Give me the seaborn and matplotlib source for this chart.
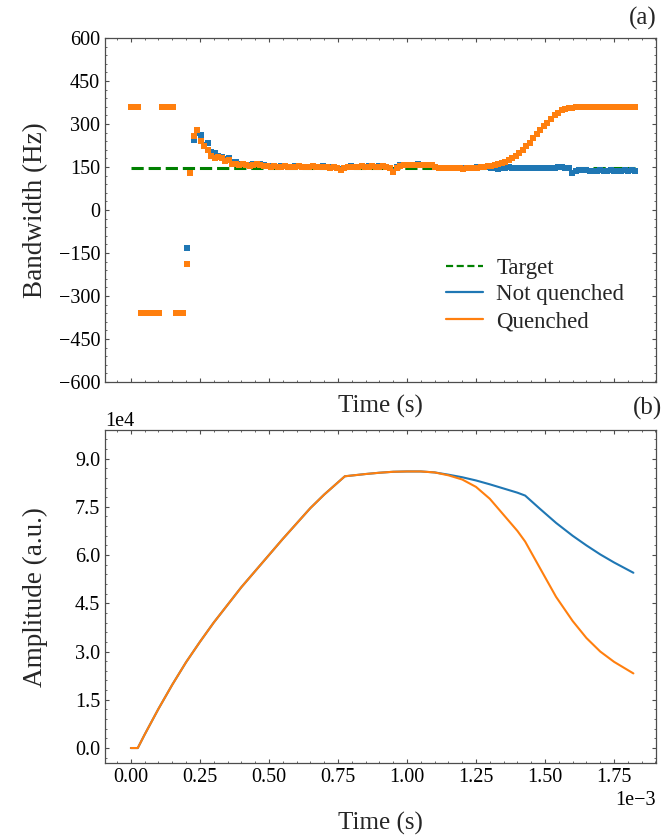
import numpy as np
import pandas as pd
import matplotlib
matplotlib.use("Agg")
import matplotlib.pyplot as plt
from matplotlib.lines import Line2D
from matplotlib.ticker import MultipleLocator, AutoMinorLocator
import seaborn as sns

# ---- bandwidth estimates (Hz), one value per control sample ----
sample_period = 12.68e-6  # s

bw_not_quenched = [
    360, 360, 360, -360, -360, -360, -360, -360, -360, 360,
    360, 360, 360, -360, -360, -360, -133, 128, 244, 268,
    262, 226, 233, 202, 199, 190, 185, 178, 180, 168,
    166, 160, 162, 158, 156, 160, 162, 159, 156, 153,
    152, 154, 151, 152, 153, 151, 150, 152, 154, 151,
    150, 151, 153, 151, 150, 152, 151, 149, 151, 147,
    142, 148, 151, 152, 150, 151, 153, 151, 152, 154,
    151, 152, 153, 151, 147, 135, 149, 156, 157, 158,
    157, 158, 159, 158, 157, 158, 157, 151, 148, 147,
    148, 147, 146, 147, 146, 145, 146, 147, 148, 149,
    150, 149, 150, 148, 146, 143, 147, 148, 149, 147,
    146, 148, 147, 146, 148, 147, 145, 146, 148, 147,
    146, 148, 149, 150, 148, 145, 130, 136, 140, 139,
    138, 137, 136, 137, 138, 136, 137, 138, 137, 136,
    137, 138, 137, 138, 137,
]

bw_quenched = [
    360, 360, 360, -360, -360, -360, -360, -360, -360, 360,
    360, 360, 360, -360, -360, -360, -188, 130, 258, 279,
    240, 224, 208, 190, 182, 186, 180, 170, 176, 162,
    160, 158, 160, 156, 154, 157, 160, 158, 155, 152,
    151, 153, 150, 151, 152, 150, 149, 151, 153, 150,
    149, 150, 152, 150, 149, 151, 150, 148, 150, 146,
    140, 147, 150, 151, 149, 150, 152, 150, 151, 153,
    150, 151, 152, 150, 146, 134, 148, 155, 156, 157,
    156, 157, 158, 157, 156, 157, 156, 150, 147, 146,
    147, 146, 145, 146, 145, 144, 145, 146, 147, 148,
    150, 150, 152, 155, 158, 160, 163, 167, 174, 181,
    190, 199, 209, 222, 234, 251, 266, 280, 292, 302,
    318, 330, 338, 348, 352, 355, 357, 359, 360, 360,
    360, 360, 360, 360, 360, 360, 360, 360, 360, 360,
    360, 360, 360, 360, 360,
]

target_bw = 146  # Hz

# ---- signal amplitude (units of 1e4, a.u.) ----
amp_time_ms = [0.0, 0.025, 0.05, 0.1, 0.15, 0.2, 0.25, 0.3, 0.35, 0.4,
               0.45, 0.5, 0.55, 0.6, 0.65, 0.7, 0.775, 0.85, 0.9,
               0.95, 1.0, 1.05, 1.1, 1.15, 1.2, 1.25, 1.3, 1.35, 1.4,
               1.428, 1.48, 1.54, 1.6, 1.65, 1.7, 1.75, 1.82]
amp_not_quenched = [0.0, 0.0, 0.42, 1.22, 1.97, 2.67, 3.3, 3.9, 4.45, 5.0,
                    5.5, 6.0, 6.5, 6.98, 7.46, 7.88, 8.45, 8.52, 8.56,
                    8.59, 8.6, 8.6, 8.57, 8.5, 8.42, 8.32, 8.2, 8.07, 7.94,
                    7.85, 7.45, 7.0, 6.6, 6.3, 6.02, 5.77, 5.45]
amp_quenched = [0.0, 0.0, 0.42, 1.22, 1.97, 2.67, 3.3, 3.9, 4.45, 5.0,
                5.5, 6.0, 6.5, 6.98, 7.46, 7.88, 8.45, 8.52, 8.56,
                8.59, 8.6, 8.6, 8.57, 8.48, 8.35, 8.12, 7.75, 7.25, 6.75,
                6.42, 5.62, 4.7, 3.95, 3.42, 3.0, 2.68, 2.32]

BLUE = "#1f77b4"
ORANGE = "#ff7f0e"
GREEN = "#008000"

n = len(bw_quenched)
t_bw = np.arange(n) * sample_period
bw_df = pd.DataFrame({"t": t_bw, "nq": bw_not_quenched, "q": bw_quenched,
                      "target": [target_bw] * n})
amp_df = pd.DataFrame({"t": np.array(amp_time_ms) * 1e-3,
                       "nq": np.array(amp_not_quenched) * 1e4,
                       "q": np.array(amp_quenched) * 1e4})

sns.set_theme(style="ticks")
plt.rcParams.update({
    "font.family": ["Liberation Serif", "DejaVu Serif"],
    "font.size": 14.5,
    "axes.linewidth": 0.9,
    "axes.edgecolor": "#4d4d4d",
    "xtick.direction": "in",
    "ytick.direction": "in",
    "xtick.top": True,
    "ytick.right": True,
    "xtick.major.size": 3.2,
    "ytick.major.size": 3.2,
    "xtick.minor.size": 1.6,
    "ytick.minor.size": 1.6,
    "xtick.major.width": 0.8,
    "ytick.major.width": 0.8,
    "xtick.minor.width": 0.6,
    "ytick.minor.width": 0.6,
    "xtick.color": "#4d4d4d",
    "ytick.color": "#4d4d4d",
    "xtick.labelcolor": "black",
    "ytick.labelcolor": "black",
    "xtick.labelsize": 14.5,
    "ytick.labelsize": 14.5,
})

fig = plt.figure(figsize=(6.64, 8.36), dpi=100)
ax1 = fig.add_axes([0.158, 0.543, 0.830, 0.4115])
ax2 = fig.add_axes([0.158, 0.0873, 0.830, 0.398], sharex=ax1)

# (a) bandwidth
sns.lineplot(data=bw_df, x="t", y="target", ax=ax1, color=GREEN,
             linestyle=(0, (4, 1.6)), linewidth=2.2, zorder=2)
sns.scatterplot(data=bw_df, x="t", y="nq", ax=ax1, color=BLUE, marker="s",
                s=16, linewidth=0, zorder=3)
sns.scatterplot(data=bw_df, x="t", y="q", ax=ax1, color=ORANGE, marker="s",
                s=16, linewidth=0, zorder=4)
ax1.set_ylim(-600, 600)
ax1.yaxis.set_major_locator(MultipleLocator(150))
ax1.yaxis.set_minor_locator(AutoMinorLocator(5))
ax1.set_ylabel("Bandwidth (Hz)", fontsize=19.5)
ax1.set_xlabel("Time (s)", labelpad=6, fontsize=18)
ax1.tick_params(axis="x", labelbottom=False)

handles = [
    Line2D([], [], color=GREEN, linestyle=(0, (3.2, 1.6)), linewidth=1.6, label="Target"),
    Line2D([], [], color=BLUE, linewidth=1.6, label="Not quenched"),
    Line2D([], [], color=ORANGE, linewidth=1.6, label="Quenched"),
]
ax1.legend(handles=handles, loc="lower right", bbox_to_anchor=(0.98, 0.085),
           frameon=False, fontsize=16.5, handlelength=1.6,
           handletextpad=0.6, labelspacing=0.25)

# (b) amplitude
sns.lineplot(data=amp_df, x="t", y="nq", ax=ax2, color=BLUE, linewidth=1.5)
sns.lineplot(data=amp_df, x="t", y="q", ax=ax2, color=ORANGE, linewidth=1.5)
ax2.set_xlim(-0.094e-3, 1.902e-3)
ax2.set_ylim(-0.466e4, 9.88e4)
ax2.xaxis.set_major_locator(MultipleLocator(0.25e-3))
ax2.xaxis.set_minor_locator(AutoMinorLocator(5))
ax2.yaxis.set_major_locator(MultipleLocator(1.5e4))
ax2.yaxis.set_minor_locator(AutoMinorLocator(5))
ax2.ticklabel_format(axis="both", style="sci", scilimits=(0, 0))
ax2.xaxis.get_offset_text().set_fontsize(14.5)
ax2.yaxis.get_offset_text().set_fontsize(14.5)
ax2.set_xlabel("Time (s)", labelpad=18, fontsize=18)
ax2.set_ylabel("Amplitude (a.u.)", fontsize=19.5)

for ax in (ax1, ax2):
    ax.yaxis.set_label_coords(-0.103, 0.5)

fig.text(657 / 664, 1 - 18 / 836, "(a)", ha="right", va="center", fontsize=18)
fig.text(662 / 664, 1 - 408 / 836, "(b)", ha="right", va="center", fontsize=18)

fig.savefig("out.png", dpi=100)
